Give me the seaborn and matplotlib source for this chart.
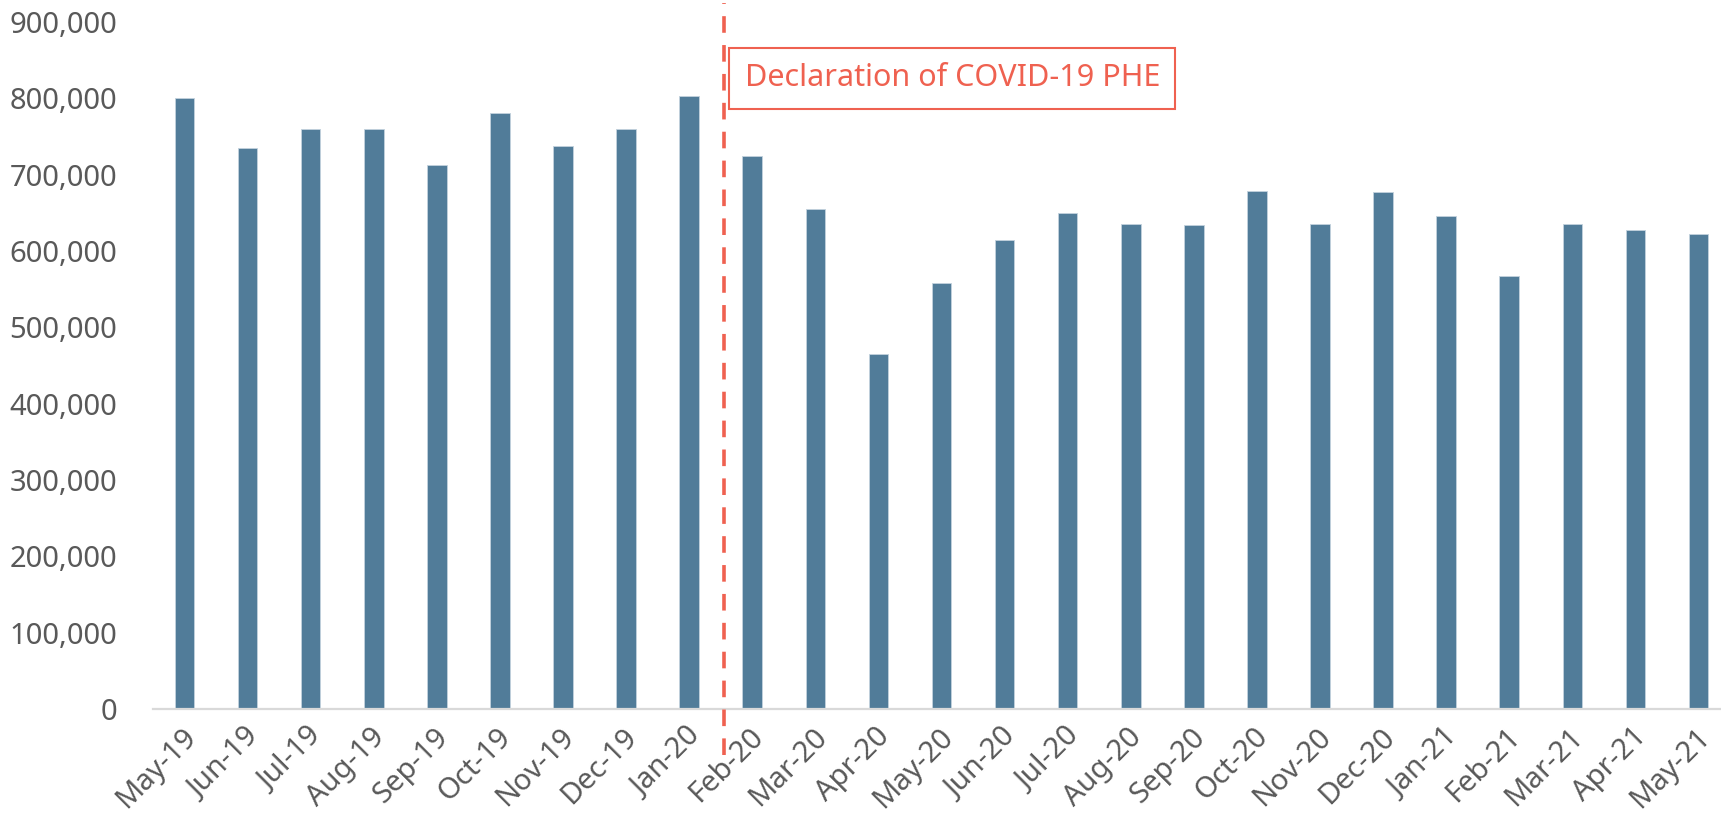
import seaborn as sns
import matplotlib.pyplot as plt
import matplotlib.transforms as mtrans
from matplotlib.ticker import StrMethodFormatter

months = ["May-19", "Jun-19", "Jul-19", "Aug-19", "Sep-19", "Oct-19", "Nov-19",
          "Dec-19", "Jan-20", "Feb-20", "Mar-20", "Apr-20", "May-20", "Jun-20",
          "Jul-20", "Aug-20", "Sep-20", "Oct-20", "Nov-20", "Dec-20", "Jan-21",
          "Feb-21", "Mar-21", "Apr-21", "May-21"]
counts = [801000, 735000, 760000, 760000, 713000, 781000, 737000,
          760000, 803000, 725000, 655000, 465000, 558000, 614000,
          650000, 636000, 634000, 678000, 636000, 677000, 646000,
          567000, 636000, 627000, 622000]
phe_label = "Declaration of COVID-19 PHE"
phe_pos = 8.55  # between Jan-20 and Feb-20

bar_col = "#517C99"
red = "#EF6150"
grey = "#595959"

sns.set_style("white")
plt.rcParams['font.family'] = ['Noto Sans', 'DejaVu Sans']

fig = plt.figure(figsize=(17.21, 8.15), dpi=100)
ax = fig.add_axes([153/1721, 106/815, 1577/1721, 687/815])

sns.barplot(x=months, y=counts, color=bar_col, width=0.31, ax=ax,
            edgecolor="#C3D2DD", linewidth=0.6, saturation=1)

ax.set_xlim(-0.5, 24.5)
ax.set_ylim(0, 900000)
ax.set_yticks(range(0, 900001, 100000))
ax.yaxis.set_major_formatter(StrMethodFormatter('{x:,.0f}'))

sns.despine(ax=ax, left=True)
ax.spines['bottom'].set_color("#D9D9D9")
ax.spines['bottom'].set_linewidth(1.6)
ax.tick_params(axis='y', length=0, pad=26, labelsize=21, labelcolor=grey)
ax.tick_params(axis='x', length=0, pad=17, labelsize=21, labelcolor=grey)
shift = mtrans.ScaledTranslation(7/100, 0, fig.dpi_scale_trans)
for lab in ax.get_xticklabels():
    lab.set_rotation(45)
    lab.set_ha('right')
    lab.set_va('center')
    lab.set_rotation_mode('anchor')
    lab.set_transform(lab.get_transform() + shift)
ax.set_xlabel("")
ax.set_ylabel("")

# PHE marker
ax.plot([phe_pos, phe_pos], [-60000, 925000], color=red, lw=2.6,
        ls=(0, (4.6, 3.4)), clip_on=False, zorder=5)
ax.text(phe_pos + 0.33, 826000, phe_label, color=red, fontsize=22,
        ha='left', va='center',
        bbox=dict(boxstyle='square,pad=0.5', fc='white', ec=red, lw=1.5))

fig.savefig("out.png", dpi=100)
